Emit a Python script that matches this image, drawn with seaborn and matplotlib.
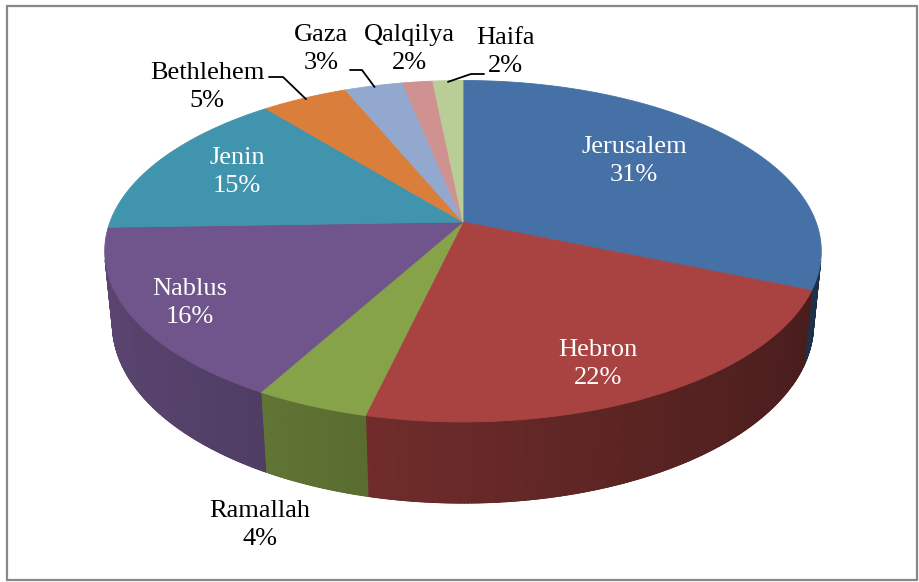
import numpy as np
import matplotlib
matplotlib.use("Agg")
import matplotlib.pyplot as plt
import seaborn as sns
from matplotlib.patches import Polygon, Rectangle
from matplotlib.collections import PolyCollection
from matplotlib.colors import to_rgb

# data: share of respondents by city (labels show rounded %)
cities = ['Jerusalem', 'Hebron', 'Ramallah', 'Nablus', 'Jenin',
          'Bethlehem', 'Gaza', 'Qalqilya', 'Haifa']
shares = [31.3, 22.4, 4.4, 16.4, 14.6, 4.6, 3.1, 1.6, 1.6]
colors = ['#4571A7', '#A84341', '#87A34A', '#6F558B', '#4094AD',
          '#D97F3B', '#93A8CF', '#CF9291', '#B9CD96']

sns.set_theme(style='white')
plt.rcParams['font.family'] = ['Liberation Serif', 'DejaVu Serif']

W, H = 920, 582
fig = plt.figure(figsize=(W / 100, H / 100), dpi=100)
ax = fig.add_axes([0, 0, 1, 1])
ax.set_xlim(0, W)
ax.set_ylim(H, 0)
ax.axis('off')

# 3d pie view (perspective), screen units are pixels
cx, cy, k = 463, 222, 353
elev = np.radians(28)
dist = 5.16
thick = 0.235


def proj(theta, r=1.0, y=0.0):
    t = np.radians(theta)
    x, z = r * np.sin(t), -r * np.cos(t)
    u = y * np.cos(elev) - z * np.sin(elev)
    d = y * np.sin(elev) + z * np.cos(elev)
    sc = dist / (dist - d)
    return cx + k * x * sc, cy - k * u * sc


def visible(theta):
    return -1 - dist * np.cos(elev) * np.cos(np.radians(theta)) > 0


def shade(c, theta):
    f = 0.62 - 0.2 * np.sin(np.radians(theta))
    return tuple(np.clip(np.array(to_rgb(c)) * f, 0, 1))


total = sum(shares)
edges = np.concatenate([[0], np.cumsum(shares)]) / total * 360

# outer walls (only the part turned to the viewer)
quads, qcols = [], []
for i, c in enumerate(colors):
    a0, a1 = edges[i], edges[i + 1]
    th = np.linspace(a0, a1, max(2, int((a1 - a0) / 0.5) + 1))
    th = th[visible(th)]
    if len(th) < 2:
        continue
    # base fill so no gaps show between the shaded strips
    xt, yt = proj(th)
    xb, yb = proj(th[::-1], y=-thick)
    base = np.column_stack([np.r_[xt, xb], np.r_[yt, yb]])
    bc = shade(c, th.mean())
    ax.add_patch(Polygon(base, closed=True, fc=bc, ec=bc, lw=0.5))
    for t1, t2 in zip(th[:-1], th[1:]):
        quads.append([proj(t1), proj(t2), proj(t2, y=-thick), proj(t1, y=-thick)])
        qcols.append(shade(c, (t1 + t2) / 2))
ax.add_collection(PolyCollection(quads, facecolors=qcols, edgecolors=qcols, linewidths=0.8))

# top faces
for i, c in enumerate(colors):
    a0, a1 = edges[i], edges[i + 1]
    th = np.linspace(a0, a1, max(2, int((a1 - a0) / 0.5) + 1))
    xs, ys = proj(th)
    pts = np.vstack([[proj(0, r=0)], np.column_stack([xs, ys])])
    ax.add_patch(Polygon(pts, closed=True, fc=c, ec=c, lw=0.6))

# labels
label_xy = {'Jerusalem': (634, 161), 'Hebron': (598, 364), 'Ramallah': (260, 525),
            'Nablus': (190, 303), 'Jenin': (237, 172), 'Bethlehem': (207, 87),
            'Gaza': (321, 49), 'Qalqilya': (409, 49), 'Haifa': (505, 52)}
inside = ['Jerusalem', 'Hebron', 'Nablus', 'Jenin']
for name, v in zip(cities, shares):
    x, y = label_xy[name]
    ax.text(x, y, f'{name}\n{v / total * 100:.0f}%', ha='center', va='center',
            fontsize=19, linespacing=1.4,
            color='white' if name in inside else 'black')

# leader lines for the thin slices
leaders = {'Bethlehem': [(269, 77), (283, 77)], 'Gaza': [(350, 70), (362, 70)],
           'Haifa': [(484, 74), (471, 74)]}
for i, name in enumerate(cities):
    if name in leaders:
        mid = (edges[i] + edges[i + 1]) / 2
        pts = leaders[name] + [proj(mid, r=0.99)]
        ax.plot([p[0] for p in pts], [p[1] for p in pts], color='black', lw=1.3)

ax.add_patch(Rectangle((7, 6), 910, 574, fill=False, ec='#888888', lw=1.6))

fig.savefig('out.png', dpi=100)
